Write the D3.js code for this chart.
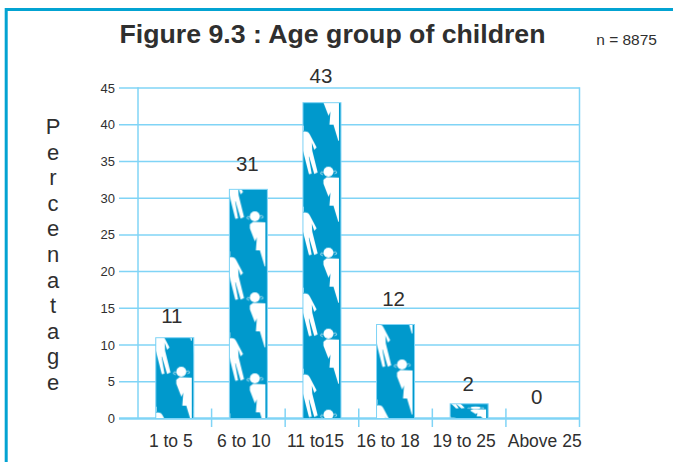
<!DOCTYPE html>
<html><head><meta charset="utf-8">
<script src="https://cdnjs.cloudflare.com/ajax/libs/d3/7.8.5/d3.min.js"></script>
<style>
html,body{margin:0;padding:0;background:#fff}
svg{display:block}
text{font-family:"Liberation Sans",Arial,sans-serif;fill:#2f2f2f}
</style></head><body><div id="c"></div>
<script>
const categories=["1 to 5","6 to 10","11 to15","16 to 18","19 to 25","Above 25"];
const values=[11,31,43,12,2,0];
const barTops=[11,31.2,43,12.8,2,0];
const yTicks=[0,5,10,15,20,25,30,35,40,45];
const axisLetters=["P","e","r","c","e","n","a","t","a","g","e"];

// layout tweaks, separate from the data
const patternPhase=[34,27,-12,40,4,0];
const patternSquash=[1,1,1,1,0.25,1];
const labelGap=[15,18,20,18,13,15];
const labelShift=[-3,-1,-1,-2,-1,-6];
const catShift=[-4,-4.5,-6.5,-7.5,-5,2];

const W=673,H=462,L=138,R=579.5,T=88,B=418.5;
const lineC="#80d4f6",barC="#0099cc",frameC="#03a3d2";
const svg=d3.select("#c").append("svg").attr("width",W).attr("height",H);
const x=d3.scaleBand().domain(categories).range([L,R]);
const y=d3.scaleLinear().domain([0,45]).range([B,T]);
const barW=38, period=81, headY=8;
const defs=svg.append("defs");

function figures(g){
  const girl=g.append("g").attr("transform",`translate(25.5,${headY})`);
  girl.append("circle").attr("r",5).attr("fill","#fff");
  girl.append("path").attr("d","M-4.5,1 L-7,0 L-8,2 L-5.5,3 M4.5,0 L7,-1 L8.5,1 L6,2")
    .attr("stroke","#fff").attr("stroke-width",0.7).attr("stroke-opacity",.8).attr("fill","none");
  girl.append("path").attr("d","M-5,8 L-1.7,5.5 L10.5,6 L10.5,50 L9.8,50 L5,34 L1,34 L2,21 L0,25 L-5,12 Z").attr("fill","#fff");
  [43,43-period].forEach(t=>{
    g.append("path").attr("transform",`translate(0,${t})`)
      .attr("d","M0,6 C3,5 6,6 7,9 L13.7,21.7 L11.3,24 L8.8,17 L9.3,25 L14.7,46.7 L11.3,48.3 L6.2,31 L5.8,31 L8.7,48 L6,48.5 L0,25 Z M0,0 L0.7,0 L0.7,5 L0,5 Z")
      .attr("fill","#fff");
  });
}
values.forEach((v,i)=>{
  const bx=x(categories[i])+(x.bandwidth()-barW)/2, top=y(barTops[i]);
  const p=defs.append("pattern").attr("id","p"+i).attr("patternUnits","userSpaceOnUse")
    .attr("x",0).attr("y",0).attr("width",barW).attr("height",period)
    .attr("patternTransform",`translate(${bx},${top+patternPhase[i]-headY*patternSquash[i]}) scale(1,${patternSquash[i]})`);
  p.append("rect").attr("width",barW).attr("height",period).attr("fill",barC);
  figures(p);
});

// frame
svg.append("path").attr("d",`M6.2,${H} V9.5 H${W}`).attr("fill","none").attr("stroke",frameC).attr("stroke-width",3);

// grid
svg.append("g").selectAll("line").data(yTicks).join("line")
  .attr("x1",L-19).attr("x2",R).attr("y1",d=>y(d)).attr("y2",d=>y(d))
  .attr("stroke",lineC).attr("stroke-width",d=>d===0?2.4:1.5);
svg.append("line").attr("x1",L).attr("x2",L).attr("y1",T-.7).attr("y2",B).attr("stroke",lineC).attr("stroke-width",1.5);
svg.append("line").attr("x1",R).attr("x2",R).attr("y1",T-.7).attr("y2",B+8.5).attr("stroke",lineC).attr("stroke-width",1.5);
svg.append("g").selectAll("line").data(categories.slice(0,-1)).join("line")
  .attr("x1",d=>x(d)+x.bandwidth()).attr("x2",d=>x(d)+x.bandwidth()).attr("y1",B-10).attr("y2",B+8.5)
  .attr("stroke",lineC).attr("stroke-width",1.5);

// bars
svg.append("g").selectAll("rect").data(d3.range(values.length).filter(i=>values[i]>0)).join("rect")
  .attr("x",i=>x(categories[i])+(x.bandwidth()-barW)/2).attr("width",barW)
  .attr("y",i=>y(barTops[i])).attr("height",i=>B-y(barTops[i]))
  .attr("fill",i=>`url(#p${i})`).attr("stroke",lineC).attr("stroke-width",1);

// y tick labels
svg.append("g").selectAll("text").data(yTicks).join("text")
  .attr("x",115).attr("y",d=>y(d)+4.5).attr("text-anchor","end").attr("font-size",13).text(d=>d);
// x labels
svg.append("g").selectAll("text").data(categories).join("text")
  .attr("x",(d,i)=>x(d)+x.bandwidth()/2+catShift[i]).attr("y",447).attr("text-anchor","middle").attr("font-size",17.5).text(d=>d);
// value labels
svg.append("g").selectAll("text").data(values).join("text")
  .attr("x",(d,i)=>x(categories[i])+x.bandwidth()/2+labelShift[i]).attr("y",(d,i)=>y(barTops[i])-labelGap[i]).attr("text-anchor","middle")
  .attr("font-size",20.5).text(d=>d);
// y title letters
const ly=d3.scalePoint().domain(d3.range(axisLetters.length)).range([134,390]);
svg.append("g").selectAll("text").data(axisLetters).join("text")
  .attr("x",53).attr("y",(d,i)=>ly(i)).attr("text-anchor","middle").attr("font-size",22).text(d=>d);
svg.append("text").attr("x",332.5).attr("y",43).attr("text-anchor","middle").attr("font-size",26.7).attr("font-weight","bold").text("Figure 9.3 : Age group of children");
svg.append("text").attr("x",657).attr("y",45).attr("text-anchor","end").attr("font-size",15.5).text("n = 8875");
</script></body></html>
